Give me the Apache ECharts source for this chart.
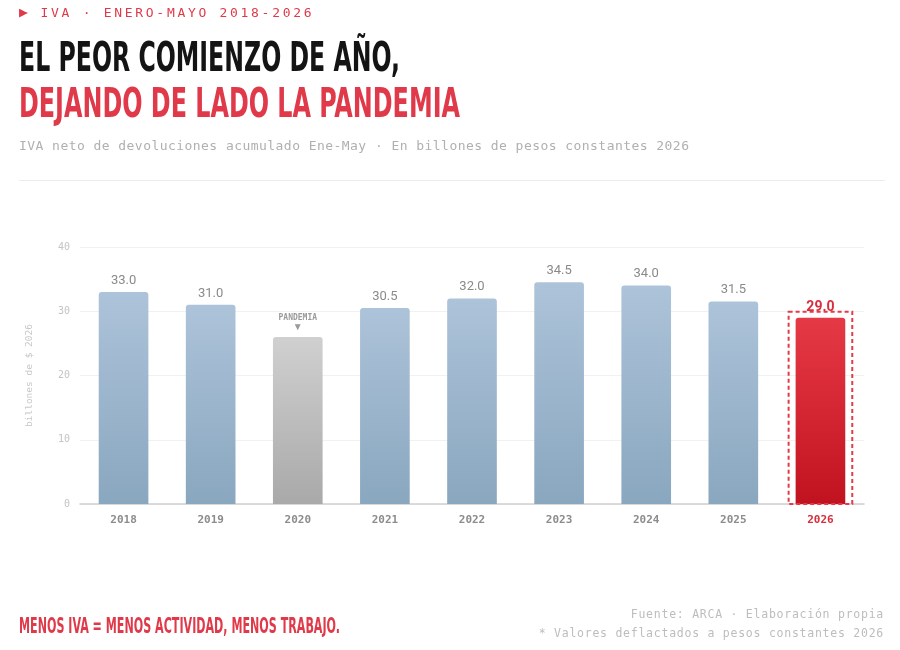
<!DOCTYPE html>
<html><head><meta charset="utf-8">
<script src="https://cdn.jsdelivr.net/npm/echarts@6/dist/echarts.min.js"></script>
<style>
html,body{margin:0;padding:0;background:#fff;width:900px;height:650px;overflow:hidden;}
#chart{position:absolute;left:0;top:0;width:900px;height:650px;}
.abs{position:absolute;white-space:nowrap;}
.mono{font-family:"DejaVu Sans Mono","Liberation Mono",monospace;}
.cond{font-family:"Liberation Sans Narrow","DejaVu Sans Condensed","Roboto Condensed",sans-serif;font-weight:bold;transform-origin:0 0;display:inline-block;}
</style></head>
<body>
<div id="chart"></div>
<div class="abs mono" style="left:19px;top:3px;font-size:13px;letter-spacing:2.7px;color:#e03a4a;"><span style="font-size:15px;letter-spacing:2px;">▶</span> IVA · ENERO-MAYO 2018-2026</div>
<div class="abs cond fit" data-w="381" style="left:19px;top:37px;font-size:40px;line-height:1;color:#141414;">EL PEOR COMIENZO DE AÑO,</div>
<div class="abs cond fit" data-w="441" style="left:19px;top:83px;font-size:40px;line-height:1;color:#e03a4a;">DEJANDO DE LADO LA PANDEMIA</div>
<div class="abs mono" style="left:19px;top:138px;font-size:13px;letter-spacing:0.45px;color:#b0b0b0;">IVA neto de devoluciones acumulado Ene-May · En billones de pesos constantes 2026</div>
<div class="abs" style="left:19px;top:180px;width:866px;height:1px;background:#ececec;"></div>
<div class="abs cond fit" data-w="321" style="left:19px;top:616px;font-size:21px;line-height:1;color:#e03a4a;">MENOS IVA = MENOS ACTIVIDAD, MENOS TRABAJO.</div>
<div class="abs mono" style="right:16px;top:607px;font-size:11.5px;letter-spacing:0.75px;color:#bdbdbd;text-align:right;">Fuente: ARCA · Elaboración propia</div>
<div class="abs mono" style="right:16px;top:626px;font-size:11.5px;letter-spacing:0.75px;color:#bdbdbd;text-align:right;">* Valores deflactados a pesos constantes 2026</div>
<script>
// ---- data ----
const years = ['2018','2019','2020','2021','2022','2023','2024','2025','2026'];
const values = [33.0, 31.0, 26.0, 30.5, 32.0, 34.5, 34.0, 31.5, 29.0];
const highlightYear = '2026';
const pandemicYear = '2020';
const pandemicLabel = 'PANDEMIA';
const yAxisName = 'billones de $ 2026';

// fit condensed text widths
document.querySelectorAll('.fit').forEach(el => {
  const w = +el.dataset.w;
  const s = w / el.getBoundingClientRect().width;
  el.style.transform = 'scaleX(' + s + ')';
});

const grad = (a, b) => new echarts.graphic.LinearGradient(0, 0, 0, 1, [{offset:0,color:a},{offset:1,color:b}]);

const barData = years.map((y, i) => {
  const item = { value: values[i] };
  if (y === highlightYear) {
    item.itemStyle = { color: grad('#e63946', '#c1121f') };
    item.label = { color: '#d62f3d', fontWeight: 'bold', fontSize: 14, distance: 3 };
  } else if (y === pandemicYear) {
    item.itemStyle = { color: grad('#d0d0d0', '#a9a9a9') };
    item.label = {
      formatter: '{p|' + pandemicLabel + '}\n{t|▼}',
      rich: {
        p: { fontFamily: 'DejaVu Sans Mono', fontSize: 8, color: '#9a9a9a', fontWeight: 'bold', align: 'center', lineHeight: 10 },
        t: { fontSize: 10, color: '#9a9a9a', align: 'center', lineHeight: 10 }
      },
      distance: 4
    };
  }
  return item;
});

const hi = years.indexOf(highlightYear);
const chart = echarts.init(document.getElementById('chart'));
chart.setOption({
  animation: false,
  grid: { left: 80, right: 36, top: 247, bottom: 146 },
  xAxis: {
    type: 'category', data: years,
    axisLine: { lineStyle: { color: '#cfcfcf', width: 1.5 } },
    axisTick: { show: false },
    axisLabel: {
      margin: 11,
      fontFamily: 'DejaVu Sans Mono', fontSize: 11, fontWeight: 'bold', color: '#8c8c8c',
      formatter: v => v === highlightYear ? '{r|' + v + '}' : v,
      rich: { r: { fontFamily: 'DejaVu Sans Mono', fontSize: 11, fontWeight: 'bold', color: '#d62f3d' } }
    }
  },
  yAxis: {
    type: 'value', min: 0, max: 40, interval: 10,
    name: yAxisName, nameLocation: 'middle', nameGap: 45,
    nameTextStyle: { fontFamily: 'DejaVu Sans Mono', fontSize: 9.5, color: '#c8c8c8' },
    axisLine: { show: false }, axisTick: { show: false },
    axisLabel: { fontFamily: 'DejaVu Sans Mono', fontSize: 10, color: '#c4c4c4', margin: 10 },
    splitLine: { lineStyle: { color: '#f1f1f1' } }
  },
  series: [
    {
      type: 'bar', data: barData, barWidth: '57%',
      itemStyle: { color: grad('#adc3d9', '#89a7bf'), borderRadius: [3, 3, 0, 0] },
      label: {
        show: true, position: 'top', distance: 5,
        fontFamily: 'Roboto, "Liberation Sans", sans-serif', fontSize: 13, color: '#8a8a8a',
        formatter: p => p.value.toFixed(1)
      },
      z: 2
    },
    {
      type: 'custom', z: 3, silent: true,
      data: [[hi, values[hi]]],
      renderItem: (params, api) => {
        const top = api.coord([api.value(0), api.value(1)]);
        const base = api.coord([api.value(0), 0]);
        const band = api.size([1, 0])[0];
        const half = band * 0.57 / 2 + 7;
        return {
          type: 'rect',
          shape: { x: top[0] - half, y: top[1] - 6, width: half * 2, height: base[1] - top[1] + 6 },
          style: { fill: 'none', stroke: '#e63946', lineWidth: 2, lineDash: [4, 3] }
        };
      }
    }
  ]
});
</script>
</body></html>
